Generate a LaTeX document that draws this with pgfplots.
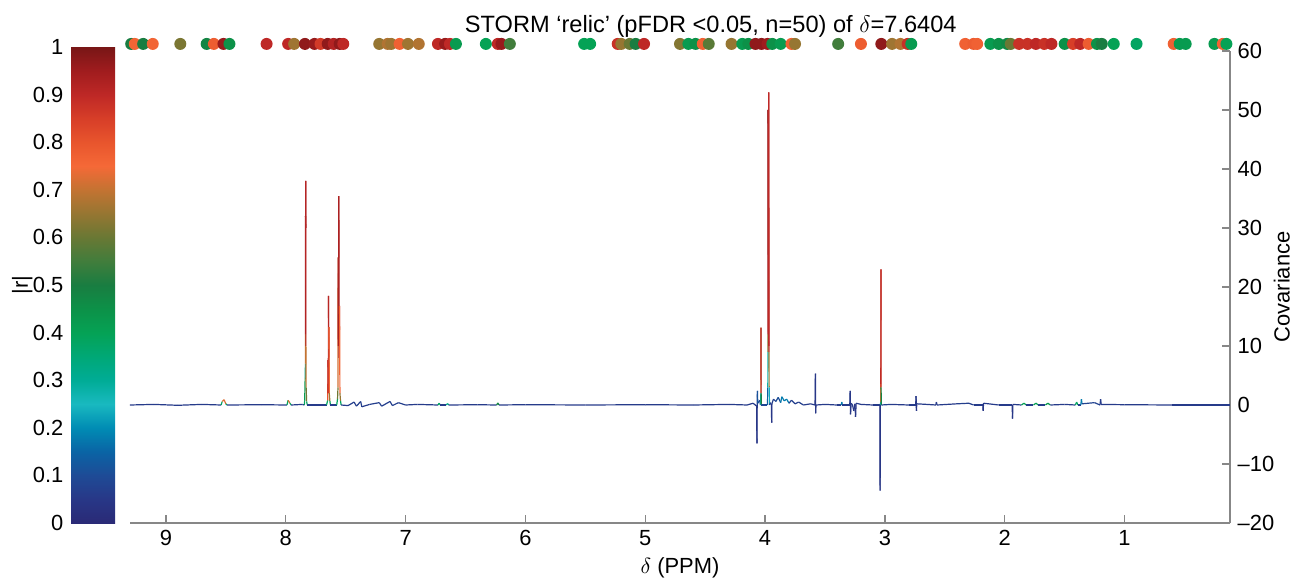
\documentclass[border=0pt,11pt]{standalone}
\usepackage{fontspec}
\setmainfont{Liberation Sans}
\usepackage{pgfplots}
\usepackage{pgfplotstable}
\pgfplotsset{compat=1.18}
\pgfplotsset{/pgf/number format/assume math mode=true}

\definecolor{axisgray}{RGB}{135,135,135}

% spectrum: shift (ppm), covariance, |r|
\pgfplotstableread{
x y r
9.30 0.0 0.06
9.10 0.1 0.06
8.90 -0.05 0.06
8.70 0.1 0.06
8.54 0.0 0.06
8.53 0.6 0.7
8.515 0.9 0.75
8.50 0.2 0.7
8.49 0.0 0.06
8.20 0.05 0.06
7.99 0.0 0.06
7.98 0.8 0.72
7.965 0.3 0.7
7.955 0.0 0.06
7.86 0.1 0.06
7.845 0.0 0.06
7.842 0.8 0.72
7.838 4.6 0.12
7.836 7 0.5
7.8355 12 0.9
7.8345 32 0.95
7.8338 30 0.95
7.833 38 0.93
7.832 10 0.9
7.830 3 0.5
7.826 0.6 0.72
7.82 0.0 0.06
7.66 0.0 0.06
7.650 0.8 0.7
7.647 7.6 0.9
7.6455 2 0.9
7.643 18.5 0.92
7.641 3 0.9
7.639 13.2 0.9
7.637 2 0.6
7.632 0.7 0.72
7.627 0.0 0.06
7.575 0.0 0.06
7.568 1 0.72
7.564 3 0.5
7.563 25 0.93
7.561 10 0.95
7.557 35.4 0.93
7.554 8 0.92
7.551 16.8 0.92
7.548 2 0.6
7.543 0.7 0.7
7.538 0 0.06
7.48 -0.1 0.06
7.43 0.5 0.08
7.41 -0.2 0.06
7.375 0.6 0.08
7.365 -0.3 0.06
7.30 0.1 0.06
7.22 0.4 0.08
7.20 -0.2 0.06
7.13 0.6 0.08
7.11 -0.1 0.06
7.06 0.4 0.08
7.00 0.0 0.06
6.90 0.1 0.06
6.73 0.0 0.06
6.72 0.3 0.7
6.71 0 0.06
6.66 0 0.06
6.65 0.25 0.6
6.64 0 0.06
6.40 0.05 0.06
6.24 0 0.06
6.23 0.35 0.9
6.22 0 0.06
6.00 0.05 0.06
5.50 0.0 0.06
5.00 0.05 0.06
4.60 0.0 0.06
4.30 0.1 0.06
4.15 0.0 0.06
4.10 0.3 0.06
4.07 -0.2 0.06
4.068 -6.5 0.04
4.066 0 0.06
4.064 2.4 0.08
4.061 0.3 0.15
4.045 0.8 0.08
4.038 0.0 0.08
4.035 2 0.5
4.034 13.1 0.92
4.033 2 0.92
4.031 0 0.1
3.980 0 0.08
3.977 3 0.2
3.976 9 0.35
3.9755 12 0.9
3.975 50 0.98
3.972 18 0.95
3.970 10 0.9
3.969 53 0.9
3.967 9 0.9
3.966 3 0.4
3.963 0 0.08
3.955 0.4 0.06
3.947 0 0.06
3.945 -3 0.04
3.943 0.2 0.06
3.93 1.0 0.08
3.91 0.6 0.06
3.89 1.3 0.15
3.87 0.4 0.06
3.86 1.4 0.3
3.84 0.7 0.06
3.82 1.0 0.3
3.80 0.3 0.06
3.78 0.8 0.08
3.75 0.2 0.06
3.72 0.5 0.08
3.68 0.0 0.06
3.62 0.2 0.06
3.583 0.0 0.06
3.58 5.3 0.06
3.578 -1.4 0.04
3.575 0.0 0.06
3.50 0.1 0.06
3.40 0.0 0.06
3.365 0.0 0.06
3.36 0.5 0.3
3.355 0.0 0.06
3.293 0.0 0.06
3.29 2.4 0.06
3.287 -1.6 0.04
3.282 0.3 0.06
3.27 0.0 0.06
3.26 -1.0 0.04
3.25 0.2 0.06
3.245 -2.0 0.04
3.24 0.3 0.06
3.20 0.1 0.06
3.10 0.0 0.06
3.042 0.0 0.06
3.040 -14.5 0.03
3.038 0 0.06
3.035 0.5 0.5
3.034 3.6 0.97
3.033 23 0.88
3.032 3 0.88
3.030 0 0.08
2.95 0.1 0.06
2.80 0.0 0.06
2.743 0.0 0.06
2.74 1.5 0.06
2.737 -1.0 0.04
2.734 0.2 0.06
2.65 0.1 0.06
2.575 0.0 0.06
2.57 0.5 0.06
2.565 0 0.06
2.40 0.2 0.06
2.30 0.3 0.08
2.26 0.0 0.06
2.183 0.0 0.06
2.18 -1.0 0.04
2.177 0.3 0.06
2.05 0.0 0.06
1.938 0.0 0.06
1.935 -2.3 0.04
1.932 0.1 0.06
1.86 0.0 0.06
1.84 0.3 0.75
1.82 0.0 0.06
1.76 0.0 0.06
1.74 0.3 0.75
1.72 0.0 0.06
1.66 0.0 0.06
1.64 0.3 0.8
1.62 0.0 0.06
1.50 0.1 0.06
1.41 0.0 0.06
1.40 0.5 0.7
1.39 0.0 0.06
1.365 0.0 0.06
1.36 1.0 0.3
1.355 0.2 0.06
1.25 0.4 0.1
1.205 0.0 0.06
1.20 1.0 0.06
1.195 0.1 0.06
1.00 0.05 0.06
0.60 0.0 0.06
0.12 0.0 0.06
}\spectrum

% significant shifts shown as dots along the top (y = 61.2)
\pgfplotstableread{
x y r
9.29 61.2 0.5
9.26 61.2 0.76
9.19 61.2 0.5
9.11 61.2 0.76
8.88 61.2 0.62
8.66 61.2 0.48
8.60 61.2 0.78
8.52 61.2 0.96
8.47 61.2 0.45
8.16 61.2 0.9
7.98 61.2 0.9
7.93 61.2 0.66
7.84 61.2 0.97
7.76 61.2 0.96
7.71 61.2 0.86
7.65 61.2 0.97
7.60 61.2 0.92
7.55 61.2 0.97
7.52 61.2 0.9
7.22 61.2 0.65
7.15 61.2 0.68
7.12 61.2 0.66
7.05 61.2 0.77
6.98 61.2 0.66
6.89 61.2 0.68
6.73 61.2 0.9
6.67 61.2 0.96
6.63 61.2 0.9
6.58 61.2 0.42
6.33 61.2 0.4
6.23 61.2 0.9
6.20 61.2 0.96
6.13 61.2 0.55
5.51 61.2 0.4
5.46 61.2 0.4
5.23 61.2 0.88
5.20 61.2 0.65
5.13 61.2 0.6
5.08 61.2 0.5
5.01 61.2 0.9
4.71 61.2 0.63
4.64 61.2 0.42
4.58 61.2 0.45
4.52 61.2 0.77
4.47 61.2 0.58
4.28 61.2 0.65
4.19 61.2 0.42
4.14 61.2 0.45
4.08 61.2 0.97
4.03 61.2 0.97
3.98 61.2 0.95
3.94 61.2 0.45
3.87 61.2 0.42
3.78 61.2 0.77
3.75 61.2 0.65
3.39 61.2 0.55
3.20 61.2 0.78
3.03 61.2 0.97
2.94 61.2 0.66
2.87 61.2 0.68
2.81 61.2 0.88
2.78 61.2 0.42
2.33 61.2 0.77
2.26 61.2 0.78
2.23 61.2 0.77
2.12 61.2 0.42
2.05 61.2 0.45
1.98 61.2 0.47
1.95 61.2 0.6
1.88 61.2 0.88
1.81 61.2 0.88
1.74 61.2 0.9
1.67 61.2 0.88
1.61 61.2 0.9
1.50 61.2 0.45
1.43 61.2 0.85
1.37 61.2 0.9
1.30 61.2 0.78
1.23 61.2 0.45
1.19 61.2 0.5
1.09 61.2 0.4
0.90 61.2 0.38
0.59 61.2 0.77
0.54 61.2 0.42
0.49 61.2 0.42
0.25 61.2 0.42
0.18 61.2 0.77
0.15 61.2 0.4
}\sigdots

\begin{document}
\begin{tikzpicture}
\useasboundingbox (-65pt,-27.5pt) rectangle (582.5pt,261.5pt);
\begin{axis}[
  scale only axis, width=550pt, height=236pt,
  x dir=reverse, xmin=0.12, xmax=9.3,
  ymin=-20, ymax=60,
  axis x line*=bottom, axis y line*=right,
  axis line style={axisgray, line width=0.6pt, -},
  every tick/.style={axisgray, line width=0.6pt},
  major tick length=4pt,
  xtick={1,2,3,4,5,6,7,8,9},
  ytick={-20,-10,0,10,20,30,40,50,60},
  yticklabels={--20,--10,0,10,20,30,40,50,60},
  xlabel={$\delta$ (PPM)},
  ylabel={Covariance},
  xlabel style={yshift=2pt},
  ylabel style={at={(axis description cs:1.047,0.5)}, anchor=center, rotate=0},
  title={STORM ‘relic’ (pFDR <0.05, n=50) of $\delta$=7.6404},
  title style={at={(axis description cs:0.528,1)}, anchor=south, yshift=-3pt,
    font=\fontsize{11.8}{14}\selectfont},
  colormap={storm}{
    rgb255(0cm)=(42,42,118); rgb255(1cm)=(40,55,135); rgb255(2cm)=(30,75,150);
    rgb255(3cm)=(10,100,165); rgb255(4cm)=(0,140,180); rgb255(5cm)=(25,185,192);
    rgb255(6cm)=(0,172,150); rgb255(7cm)=(0,168,118); rgb255(8cm)=(5,162,85);
    rgb255(9cm)=(12,145,72); rgb255(10cm)=(25,125,65); rgb255(11cm)=(65,125,60);
    rgb255(12cm)=(105,120,52); rgb255(13cm)=(150,118,50); rgb255(14cm)=(195,115,50);
    rgb255(15cm)=(245,105,55); rgb255(16cm)=(232,85,45); rgb255(17cm)=(215,62,40);
    rgb255(18cm)=(190,40,38); rgb255(19cm)=(160,28,30); rgb255(20cm)=(120,22,22)},
  point meta min=0, point meta max=1,
  colorbar,
  colorbar/width=22pt,
  colorbar style={
    at={(parent axis.south west)}, anchor=south east, xshift=-16pt,
    width=22pt, height=238pt,
    ytick={0,0.1,0.2,0.3,0.4,0.5,0.6,0.7,0.8,0.9,1},
    yticklabels={0,0.1,0.2,0.3,0.4,0.5,0.6,0.7,0.8,0.9,1},
    yticklabel pos=left,
    ylabel={|r|},
    ylabel style={at={(axis description cs:-1.11,0.5)}, anchor=center},
    axis line style={draw=none},
    major tick length=0pt,
  },
  clip=false,
]
\addplot[mesh, point meta=explicit, line width=0.6pt] table[x=x, y=y, meta=r] {\spectrum};
\addplot[scatter, only marks, mark=*, mark size=3pt, point meta=explicit,
  scatter/use mapped color={draw opacity=0, fill=mapped color}]
  table[x=x, y=y, meta=r] {\sigdots};
\end{axis}
\end{tikzpicture}
\end{document}
